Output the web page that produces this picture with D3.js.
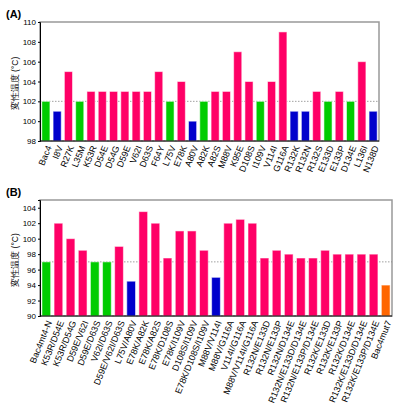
<!DOCTYPE html>
<html>
<head>
<meta charset="utf-8">
<script src="https://cdn.jsdelivr.net/npm/d3@7"></script>
<style>
  body { margin: 0; background: #fff; }
  text { font-family: "Liberation Sans", Arial, sans-serif; }
</style>
</head>
<body>
<svg id="chart" width="397" height="412"></svg>
<script>
// Panel A: single mutants
const catsA = ["Bac4", "I8V", "R27K", "L35M", "K53R", "D54E", "D54G", "D59E", "V62I", "D63S",
  "F64Y", "L75V", "E78K", "A80V", "A82K", "A82S", "M88V", "K95E", "D108S", "I109V",
  "V114I", "G116A", "R132K", "R132N", "R132S", "E133D", "E133P", "D134E", "L136I", "N138D"];
const valsA = [102, 101, 105, 102, 103, 103, 103, 103, 103, 103,
  105, 102, 104, 100, 102, 103, 103, 107, 104, 102,
  104, 109, 101, 101, 103, 102, 103, 102, 106, 101];
const groupA = ["same", "down", "up", "same", "up", "up", "up", "up", "up", "up",
  "up", "same", "up", "down", "same", "up", "up", "up", "up", "same",
  "up", "up", "down", "down", "up", "same", "up", "same", "up", "down"];
const ticksA = [98, 100, 102, 104, 106, 108, 110];

// Panel B: combined mutants
const catsB = ["Bac4mt4-N", "K53R/D54E", "K53R/D54G", "D59E/V62I", "D59E/D63S", "V62I/D63S",
  "D59E/V62I/D63S", "L75V/A80V", "E78K/A82K", "E78K/A82S", "E78K/D108S", "E78K/I109V",
  "D108S/I109V", "E78K/D108S/I109V", "M88V/V114I", "M88V/G116A", "V114I/G116A",
  "M88V/V114I/G116A", "R132N/E133D", "R132N/E133P", "R132N/D134E", "R132N/E133D/D134E",
  "R132N/E133P/D134E", "R132K/E133D", "R132K/E133P", "R132K/D134E", "R132K/E133D/D134E",
  "R132K/E133P/D134E", "Bac4mut7"];
const valsB = [97, 102, 100, 98.5, 97, 97, 99, 94.5, 103.5, 102, 97.5, 101, 101, 98.5,
  95, 102, 102.5, 102, 97.5, 98.5, 98, 97.5, 97.5, 98.5, 98, 98, 98, 98, 94];
const groupB = ["same", "up", "up", "up", "same", "same", "up", "down", "up", "up", "up", "up", "up", "up",
  "down", "up", "up", "up", "up", "up", "up", "up", "up", "up", "up", "up", "up", "up", "mut7"];
const ticksB = [90, 92, 94, 96, 98, 100, 102, 104];

const yTitle = "変性温度 (°C)";

const color = d3.scaleOrdinal()
  .domain(["same", "down", "up", "mut7"])
  .range(["#00cc00", "#0000cc", "#ff0066", "#ff6600"]);

const svg = d3.select("#chart");

function drawPanel(opt) {
  const x = d3.scaleBand()
    .domain(opt.cats)
    .range([opt.left, opt.right])
    .paddingInner(0.28)
    .paddingOuter(0.16);
  const y = d3.scaleLinear()
    .domain(opt.domain)
    .range([opt.bottom, opt.top]);

  const g = svg.append("g");

  // grey frame (top/right)
  g.append("rect")
    .attr("x", opt.left)
    .attr("y", opt.top)
    .attr("width", opt.right - opt.left)
    .attr("height", opt.bottom - opt.top)
    .attr("fill", "none")
    .attr("stroke", "#999")
    .attr("stroke-width", 1.5);

  // baseline reference
  g.append("line")
    .attr("x1", opt.left)
    .attr("x2", opt.right)
    .attr("y1", y(opt.ref))
    .attr("y2", y(opt.ref))
    .attr("stroke", "#888")
    .attr("stroke-width", 0.8)
    .attr("stroke-dasharray", "1.5,1.5");

  // bars
  g.selectAll("rect.bar")
    .data(opt.cats.map((c, i) => ({ c: c, v: opt.vals[i], grp: opt.groups[i] })))
    .enter()
    .append("rect")
    .attr("class", "bar")
    .attr("x", (d) => x(d.c))
    .attr("y", (d) => y(d.v))
    .attr("width", x.bandwidth())
    .attr("height", (d) => y(opt.domain[0]) - y(d.v))
    .attr("fill", (d) => color(d.grp))
    .attr("stroke", "rgba(255,255,255,0.55)")
    .attr("stroke-width", 1);

  // y axis
  const yAxis = g.append("g")
    .attr("transform", `translate(${opt.left},0)`)
    .call(d3.axisLeft(y).tickValues(opt.ticks).tickSize(2).tickPadding(2));
  yAxis.select(".domain").attr("stroke", "#000");
  yAxis.selectAll("text")
    .attr("font-size", 8)
    .attr("font-family", "Liberation Sans, Arial, sans-serif")
    .attr("fill", "#000");

  // x axis
  g.append("line")
    .attr("x1", opt.left)
    .attr("x2", opt.right)
    .attr("y1", opt.bottom)
    .attr("y2", opt.bottom)
    .attr("stroke", "#000");

  g.selectAll("text.xlab")
    .data(opt.cats)
    .enter()
    .append("text")
    .attr("class", "xlab")
    .attr("transform", (d) => `translate(${x(d) + x.bandwidth() / 2 + 3},${opt.bottom + 5}) rotate(-68)`)
    .attr("text-anchor", "end")
    .attr("dy", "0.35em")
    .attr("font-size", 9)
    .text((d) => d);

  // y title
  g.append("text")
    .attr("transform", `translate(18,${(opt.top + opt.bottom) / 2 + 2}) rotate(-90)`)
    .attr("text-anchor", "middle")
    .attr("font-size", 8.5)
    .attr("font-family", "Noto Sans CJK JP, sans-serif")
    .text(yTitle);

  // panel letter
  g.append("text")
    .attr("x", 6)
    .attr("y", opt.top - 4)
    .attr("font-size", 11)
    .attr("font-weight", "bold")
    .text(opt.letter);
}

drawPanel({
  cats: catsA, vals: valsA, groups: groupA, ticks: ticksA,
  domain: [98, 110], ref: 102, letter: "(A)",
  left: 40, right: 379, top: 22, bottom: 141
});

drawPanel({
  cats: catsB, vals: valsB, groups: groupB, ticks: ticksB,
  domain: [90, 105], ref: 97, letter: "(B)",
  left: 40, right: 392, top: 200, bottom: 316
});
</script>
</body>
</html>
